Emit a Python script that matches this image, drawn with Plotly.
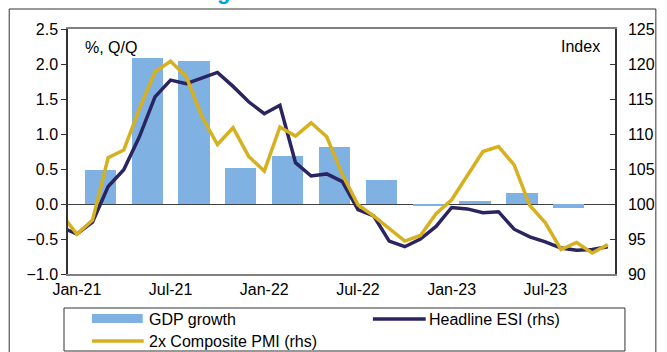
import plotly.graph_objects as go

# ---------------- data ----------------
months = ["Dec-20",
          "Jan-21", "Feb-21", "Mar-21", "Apr-21", "May-21", "Jun-21",
          "Jul-21", "Aug-21", "Sep-21", "Oct-21", "Nov-21", "Dec-21",
          "Jan-22", "Feb-22", "Mar-22", "Apr-22", "May-22", "Jun-22",
          "Jul-22", "Aug-22", "Sep-22", "Oct-22", "Nov-22", "Dec-22",
          "Jan-23", "Feb-23", "Mar-23", "Apr-23", "May-23", "Jun-23",
          "Jul-23", "Aug-23", "Sep-23", "Oct-23", "Nov-23"]

esi = [96.7,
       95.7, 97.4, 102.5, 104.9, 109.6, 115.3,
       117.7, 117.2, 118.0, 118.8, 116.8, 114.6,
       112.9, 114.1, 105.9, 104.0, 104.3, 103.2,
       99.2, 98.3, 94.7, 93.9, 95.0, 96.8,
       99.5, 99.3, 98.75, 98.9, 96.4, 95.3,
       94.6, 93.7, 93.4, 93.5, 93.9]

pmi2x = [98.6,
         95.7, 97.7, 106.6, 107.7, 113.6, 118.9,
         120.4, 118.2, 112.5, 108.5, 110.9, 106.8,
         104.7, 111.0, 109.7, 111.6, 109.6, 104.2,
         99.9, 98.3, 96.5, 94.7, 95.5, 98.6,
         100.6, 104.0, 107.5, 108.2, 105.6, 99.8,
         97.3, 93.5, 94.5, 93.0, 94.2]

quarters = ["Q1-21", "Q2-21", "Q3-21", "Q4-21", "Q1-22", "Q2-22",
            "Q3-22", "Q4-22", "Q1-23", "Q2-23", "Q3-23"]
gdp = [0.49, 2.08, 2.05, 0.52, 0.69, 0.81, 0.34, -0.03, 0.05, 0.16, -0.06]

tick_labels = ["Jan-21", "Jul-21", "Jan-22", "Jul-22", "Jan-23", "Jul-23"]

# ---------------- positions (month index, Jan-21 = 0) ----------------
x_month = [i - 1 for i in range(len(months))]
x_quarter = [3 * k + 1.5 for k in range(len(quarters))]
tick_vals = [months.index(t) - 1 for t in tick_labels]

NAVY = "#2a2560"
GOLD = "#d6b01e"
BLUE = "#7fb2e3"
FONT = "Liberation Sans, Arial, sans-serif"

fig = go.Figure()
fig.add_trace(go.Bar(x=x_quarter, y=gdp, width=2.0, marker_color=BLUE,
                     marker_line_width=0, name="GDP growth", showlegend=False,
                     yaxis="y"))
fig.add_trace(go.Scatter(x=x_month, y=esi, mode="lines",
                         line=dict(color=NAVY, width=3.5),
                         name="Headline ESI (rhs)", showlegend=False, yaxis="y2"))
fig.add_trace(go.Scatter(x=x_month, y=pmi2x, mode="lines",
                         line=dict(color=GOLD, width=3.5),
                         name="2x Composite PMI (rhs)", showlegend=False, yaxis="y2"))

# pixel -> paper helpers
L, R, T, B = 68, 617, 29, 274
W, H = 667, 352
def px(x):
    return (x - L) / (R - L)
def py(y):
    return (B - y) / (B - T)

shapes = []
annotations = []
# outer frame
shapes.append(dict(type="rect", xref="paper", yref="paper",
                   x0=px(9), x1=px(658), y0=py(400), y1=py(9),
                   line=dict(color="#333333", width=1), fillcolor="rgba(0,0,0,0)"))
# legend box
shapes.append(dict(type="rect", xref="paper", yref="paper",
                   x0=px(64), x1=px(627), y0=py(351), y1=py(308),
                   line=dict(color="#333333", width=1), fillcolor="rgba(0,0,0,0)"))
# legend symbols
shapes.append(dict(type="rect", xref="paper", yref="paper",
                   x0=px(92), x1=px(143), y0=py(323), y1=py(314),
                   line=dict(width=0), fillcolor=BLUE))
shapes.append(dict(type="line", xref="paper", yref="paper",
                   x0=px(374), x1=px(427), y0=py(319), y1=py(319),
                   line=dict(color=NAVY, width=3.5)))
shapes.append(dict(type="line", xref="paper", yref="paper",
                   x0=px(92), x1=px(144), y0=py(341), y1=py(341),
                   line=dict(color=GOLD, width=3.5)))

def txt(s, x, y, xanchor="left", size=16, color="#000000"):
    annotations.append(dict(text=s, xref="paper", yref="paper", x=px(x), y=py(y),
                            xanchor=xanchor, yanchor="middle", showarrow=False,
                            font=dict(family=FONT, size=size, color=color)))

txt("GDP growth", 147, 319)
txt("Headline ESI (rhs)", 428, 319)
txt("2x Composite PMI (rhs)", 147, 341)
txt("%, Q/Q", 83, 47)
txt("Index", 604, 46, xanchor="right")
# clipped title fragment at the top edge
txt("<b>g</b>", 224, -8, xanchor="center", size=22, color="#00a3e0")

fig.update_layout(
    width=W, height=H,
    margin=dict(l=L, r=W - R, t=T, b=H - B, pad=0),
    paper_bgcolor="white", plot_bgcolor="white",
    font=dict(family=FONT, size=16, color="#000000"),
    bargap=0,
    shapes=shapes, annotations=annotations,
    xaxis=dict(range=[-0.57, 34.46], tickvals=tick_vals, ticktext=tick_labels,
               showgrid=False, zeroline=False, showline=True, linecolor="#808080",
               linewidth=1.5, mirror=True, ticks="", tickfont=dict(size=16)),
    yaxis=dict(range=[-1.0, 2.5], dtick=0.5, tickformat=".1f", showgrid=False,
               zeroline=True, zerolinecolor="#404040", zerolinewidth=1,
               showline=True, linecolor="#333333", linewidth=1.5,
               ticks="outside", ticklen=5, tickcolor="#333333",
               tickfont=dict(size=16)),
    yaxis2=dict(range=[90, 125], dtick=5, overlaying="y", side="right",
                showgrid=False, zeroline=False, showline=True,
                linecolor="#333333", linewidth=1.5,
                ticks="inside", ticklen=5, tickcolor="#333333",
                ticklabelstandoff=8, tickfont=dict(size=16)),
)

fig.write_html("out.html")
